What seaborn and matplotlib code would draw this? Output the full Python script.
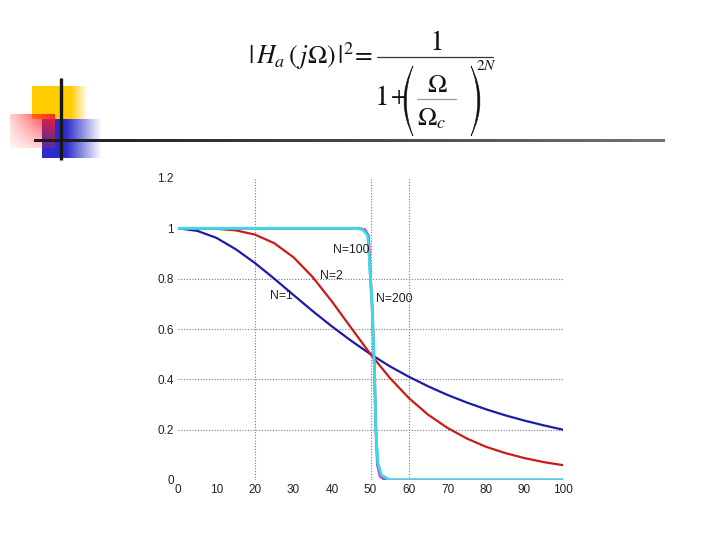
import numpy as np
import pandas as pd
import matplotlib
matplotlib.use("Agg")
import matplotlib.pyplot as plt
from matplotlib.path import Path
from matplotlib.patches import PathPatch
import seaborn as sns

# ---- data ----
x_smooth = [0, 5, 10, 15, 20, 25, 30, 35, 40, 45, 50, 55, 60, 65, 70, 75, 80, 85, 90, 95, 100]
y_n1 = [1.0, 0.99, 0.962, 0.917, 0.862, 0.80, 0.735, 0.671, 0.61, 0.553, 0.5, 0.452, 0.41,
        0.372, 0.338, 0.308, 0.281, 0.257, 0.236, 0.217, 0.2]
y_n2 = [1.0, 1.0, 0.998, 0.992, 0.975, 0.941, 0.885, 0.806, 0.709, 0.604, 0.5, 0.406, 0.325,
        0.259, 0.207, 0.165, 0.132, 0.107, 0.087, 0.071, 0.059]
x_n100 = [0, 47, 48.5, 49.5, 50.0, 50.4, 51.0, 51.4, 51.8, 52.5, 53.8, 100]
y_n100 = [1, 1, 0.995, 0.97, 0.8, 0.7, 0.45, 0.2, 0.06, 0.015, 0, 0]
x_n200 = [0, 46.5, 48.0, 49.3, 50.0, 50.4, 51.0, 51.4, 51.9, 52.8, 55.0, 100]
y_n200 = [1, 1, 0.995, 0.97, 0.8, 0.7, 0.45, 0.2, 0.07, 0.02, 0, 0]

x_ticks = [0, 10, 20, 30, 40, 50, 60, 70, 80, 90, 100]
y_ticks = [0, 0.2, 0.4, 0.6, 0.8, 1.0, 1.2]
y_tick_labels = ["0", "0.2", "0.4", "0.6", "0.8", "1", "1.2"]
h_grid = [0.2, 0.4, 0.6, 0.8]
v_grid = [20, 50, 60]

labels = ["N=100", "N=2", "N=1", "N=200"]
label_pos = [(40.2, 0.913), (37.0, 0.812), (24.0, 0.732), (51.3, 0.718)]

sns.set_style("white")
plt.rcParams['font.family'] = ['Liberation Sans', 'DejaVu Sans']
plt.rcParams['mathtext.fontset'] = 'stix'

fig = plt.figure(figsize=(7.2, 5.4), dpi=100)

# ---- background axes in pixel coordinates (logo + formula) ----
bg = fig.add_axes([0, 0, 1, 1], zorder=0)
bg.axis("off")

def grad_img(color, w, h, alpha_fn):
    xs = np.linspace(0, 1, w)[None, :]
    ys = np.linspace(0, 1, h)[:, None]
    a = alpha_fn(xs, ys) * np.ones((h, w))
    img = np.zeros((h, w, 4))
    img[..., 0] = color[0]
    img[..., 1] = color[1]
    img[..., 2] = color[2]
    img[..., 3] = np.clip(a, 0, 1)
    return img

yellow = grad_img((1.0, 0.8, 0.0), 60, 40,
                  lambda x, y: np.where(x < 0.7, 1.0, 1 - (x - 0.7) / 0.3))
bg.imshow(yellow, extent=(32, 88, 119, 86), aspect="auto", interpolation="bilinear")
blue = grad_img((0.17, 0.17, 0.8), 60, 40,
                lambda x, y: np.where(x < 0.4, 1.0, 1 - (x - 0.4) / 0.6))
bg.imshow(blue, extent=(42, 102, 158, 119), aspect="auto", interpolation="bilinear")
red = grad_img((1.0, 0.12, 0.12), 60, 40,
               lambda x, y: (0.2 + 0.8 * x) * (1 - 0.75 * y))
bg.imshow(red, extent=(10, 55, 148, 114), aspect="auto", interpolation="bilinear")
line = grad_img((0.0, 0.0, 0.0), 200, 2, lambda x, y: 1.0)
xs = np.linspace(0, 1, 200)
for k in range(3):
    line[..., k] = 0.1 + 0.35 * xs
bg.imshow(line, extent=(34, 665, 142.5, 139.5), aspect="auto", interpolation="bilinear")
bg.plot([61, 61], [78, 160], color="#151515", lw=2.4, solid_capstyle="butt")
bg.set_xlim(0, 720)
bg.set_ylim(540, 0)

# ---- formula, composed piece by piece ----
fc = "#111111"
bg.text(373, 64, r'$|\,H_a\,(\,j\Omega)\,|^2\!=$', ha="right", va="baseline",
        fontsize=18.5, color=fc)
bg.plot([377, 493], [57.3, 57.3], color="#333333", lw=0.9)
bg.text(436, 50, r'$1$', ha="center", va="baseline", fontsize=21, color=fc)
bg.text(388, 105, r'$1$', ha="right", va="baseline", fontsize=21, color=fc)
bg.text(390, 103, r'$+$', ha="left", va="baseline", fontsize=17, color=fc)
bg.text(437, 92, r'$\Omega$', ha="center", va="baseline", fontsize=18.5, color=fc)
bg.plot([417, 456], [99, 99], color="#999999", lw=0.9)
bg.text(417, 125, r'$\Omega_c$', ha="left", va="baseline", fontsize=18.5, color=fc)
bg.text(476, 70, r'$2N$', ha="left", va="baseline", fontsize=11, color=fc)

def paren(x_end, x_outer, x_inner, y0, y1):
    ym = (y0 + y1) / 2
    co = 2 * x_outer - x_end
    ci = 2 * x_inner - x_end
    verts = [(x_end, y0), (co, ym), (x_end, y1), (ci, ym), (x_end, y0)]
    codes = [Path.MOVETO, Path.CURVE3, Path.CURVE3, Path.CURVE3, Path.CURVE3]
    bg.add_patch(PathPatch(Path(verts, codes), facecolor=fc, edgecolor=fc, lw=0.4))

paren(413, 404, 406.2, 66, 136)
paren(471, 480, 477.8, 66, 136)

# ---- main plot ----
ax = fig.add_axes([178 / 720, 1 - 480 / 540, (563 - 178) / 720, (480 - 178) / 540], zorder=1)
ax.patch.set_alpha(0)

for gy in h_grid:
    ax.axhline(gy, color="#7a7a7a", lw=0.8, ls=(0, (1, 1.5)), zorder=0)
for gx in v_grid:
    ax.axvline(gx, color="#7a7a7a", lw=0.8, ls=(0, (1, 1.5)), zorder=0)

df1 = pd.DataFrame({"x": x_smooth, "y": y_n1})
df2 = pd.DataFrame({"x": x_smooth, "y": y_n2})
df100 = pd.DataFrame({"x": x_n100, "y": y_n100})
df200 = pd.DataFrame({"x": x_n200, "y": y_n200})
sns.lineplot(data=df1, x="x", y="y", ax=ax, color="#1c1ca8", lw=1.6, sort=False)
sns.lineplot(data=df2, x="x", y="y", ax=ax, color="#cc1a1a", lw=1.6, sort=False)
sns.lineplot(data=df100, x="x", y="y", ax=ax, color="#c43ad8", lw=2.0, sort=False)
sns.lineplot(data=df200, x="x", y="y", ax=ax, color="#38dede", lw=2.0, sort=False)

for t, (lx, ly) in zip(labels, label_pos):
    ax.text(lx, ly, t, fontsize=8.8, color="#222222", ha="left", va="center")

ax.set_xlim(0, 100)
ax.set_ylim(0, 1.2)
ax.set_xticks(x_ticks)
ax.set_xticklabels([str(v) for v in x_ticks], fontsize=8.5, color="#222222")
ax.set_yticks(y_ticks)
ax.set_yticklabels(y_tick_labels, fontsize=8.5, color="#222222")
ax.tick_params(length=0, pad=3)
ax.set_xlabel("")
ax.set_ylabel("")
for s in ax.spines.values():
    s.set_visible(False)

fig.savefig("out.png", dpi=100)
